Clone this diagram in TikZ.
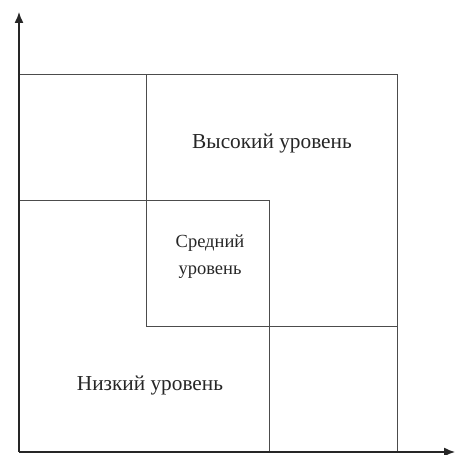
\documentclass[tikz,border=0pt]{standalone}
\usepackage{fontspec}
\setmainfont{Liberation Serif}
\usetikzlibrary{arrows.meta,positioning}

\begin{document}
\begin{tikzpicture}[x=1pt,y=1pt,>={Latex[length=11pt,width=9pt]},
				level/.style={draw=black!70,line width=1pt},
				axis/.style={->,draw=black!85,line width=1.4pt},
				label/.style={font=\fontsize{21.3}{27}\selectfont,text=black!85,align=center}]
			\useasboundingbox (0,0) rectangle (455,455);
			%\tikzstyle{every node}=[inner sep=0pt]
			\coordinate (O) at (19,3);
			\coordinate (Y) at (19,443);
			\coordinate (X) at (455,3);
			% three levels
			\draw[level] (19,254) rectangle (269,3);
			\draw[level] (146,380) rectangle (397,128);
			\draw[level] (19,380) -- (146,380);
			\draw[level] (397,128) -- (397,3);
			\draw[axis] (O) -- (Y);
			\draw[axis] (O) -- (X);
			\node[label] (high) at (272,311) {Высокий уровень};
			\node[label,font=\fontsize{18.5}{27}\selectfont] (mid) at (210,198) {Средний\\уровень};
			\node[label] (low)  at (150,69)  {Низкий уровень};
		\end{tikzpicture}
\end{document}
